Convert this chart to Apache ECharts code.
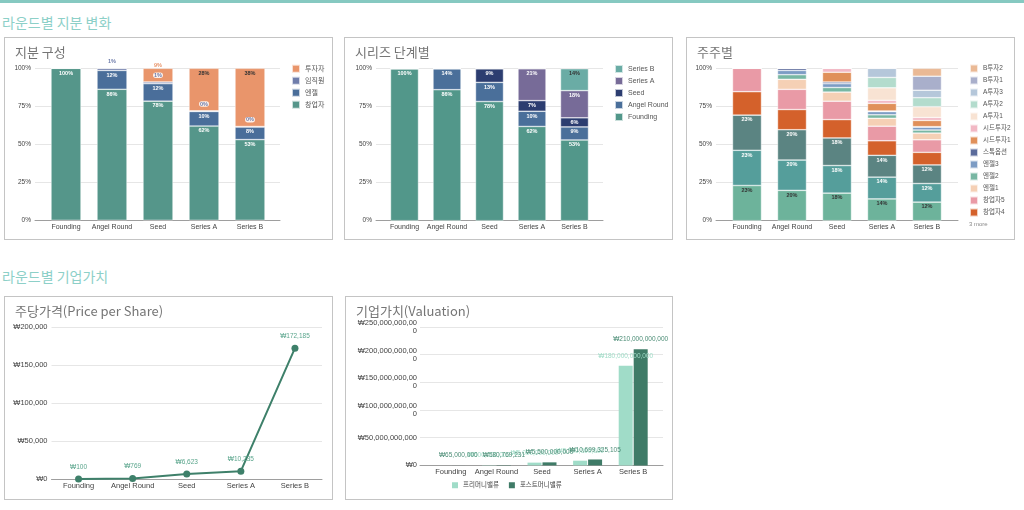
<!DOCTYPE html>
<html><head><meta charset="utf-8">
<script src="https://cdn.jsdelivr.net/npm/echarts@6/dist/echarts.min.js"></script>
<style>
body{margin:0;width:1024px;height:510px;background:#fff;position:relative;overflow:hidden;font-family:"Liberation Sans",Arial,"Noto Sans CJK KR",sans-serif;}
.topbar{position:absolute;left:0;top:0;width:1024px;height:3px;background:#86c9c1;}
.sec{position:absolute;left:2px;font-size:14px;color:#8dd0c8;line-height:16px;font-family:"Noto Sans CJK KR",sans-serif;white-space:nowrap;}
.panel{position:absolute;border:1px solid #c4c4c4;}
.ptitle{position:absolute;left:10px;top:6px;font-size:13px;color:#757575;line-height:16px;z-index:2;font-family:"Noto Sans CJK KR",sans-serif;white-space:nowrap;}
.chart{position:absolute;left:0;top:0;width:100%;height:100%;}
</style></head>
<body>
<div class="topbar"></div>
<div class="sec" style="top:14px">라운드별 지분 변화</div>
<div class="sec" style="top:268px">라운드별 기업가치</div>

<div class="panel" style="left:4px;top:37px;width:327px;height:201px"><div id="c1" class="chart"></div><div class="ptitle">지분 구성</div></div>
<div class="panel" style="left:344px;top:37px;width:327px;height:201px"><div id="c2" class="chart"></div><div class="ptitle">시리즈 단계별</div></div>
<div class="panel" style="left:686px;top:37px;width:327px;height:201px"><div id="c3" class="chart"></div><div class="ptitle">주주별</div></div>
<div class="panel" style="left:4px;top:296px;width:327px;height:202px"><div id="c4" class="chart"></div><div class="ptitle">주당가격(Price per Share)</div></div>
<div class="panel" style="left:345px;top:296px;width:326px;height:202px"><div id="c5" class="chart"></div><div class="ptitle">기업가치(Valuation)</div></div>

<script>
// ---------- data ----------
const categories = ['Founding', 'Angel Round', 'Seed', 'Series A', 'Series B'];

// 지분 구성 (percent of shares)
const eqNames = ['창업자', '엔젤', '임직원', '투자자'];
const eqFounder  = [100, 86.2, 78.4, 62.0, 53.1];
const eqAngel    = [0, 12.4, 11.5, 9.6, 8.3];
const eqEmployee = [0, 1.4, 1.1, 0.4, 0.3];
const eqInvestor = [0, 0, 9.0, 28.0, 38.3];

// 시리즈 단계별 (percent of shares)
const stNames = ['Founding', 'Angel Round', 'Seed', 'Series A', 'Series B'];
const stFounding = [100, 86.2, 78.4, 62.0, 53.1];
const stAngel    = [0, 13.8, 12.6, 10.0, 8.6];
const stSeed     = [0, 0, 9.0, 7.0, 6.0];
const stSeriesA  = [0, 0, 0, 21.0, 17.9];
const stSeriesB  = [0, 0, 0, 0, 14.4];

// 주주별 (percent of shares)
const holderNames = ['창업자1','창업자2','창업자3','창업자4','창업자5','엔젤1','엔젤2','엔젤3','스톡옵션','시드투자1','시드투자2','A투자1','A투자2','A투자3','B투자1','B투자2'];
const shFounder1 = [23.1, 19.9, 18.1, 14.3, 12.2];
const shFounder2 = [23.1, 19.9, 18.1, 14.3, 12.2];
const shFounder3 = [23.1, 19.9, 18.1, 14.3, 12.2];
const shFounder4 = [15.35, 13.25, 12.05, 9.55, 8.25];
const shFounder5 = [15.35, 13.25, 12.05, 9.55, 8.25];
const shAngel1   = [0, 6.6, 6.0, 5.2, 4.4];
const shAngel2   = [0, 3.0, 3.0, 2.3, 2.0];
const shAngel3   = [0, 2.8, 2.5, 2.1, 1.9];
const shOption   = [0, 1.4, 1.1, 0.4, 0.3];
const shSeed1    = [0, 0, 6.4, 5.0, 4.1];
const shSeed2    = [0, 0, 2.6, 2.0, 1.9];
const shA1       = [0, 0, 0, 8.2, 7.1];
const shA2       = [0, 0, 0, 6.8, 5.9];
const shA3       = [0, 0, 0, 6.0, 4.9];
const shB1       = [0, 0, 0, 0, 9.2];
const shB2       = [0, 0, 0, 0, 5.2];

// 주당가격
const pricePerShare = [100, 769, 6623, 10235, 172185];

// 기업가치
const valNames = ['프리머니밸류', '포스트머니밸류'];
const preMoney  = [null, 500000000, 5000000000, 8500000000, 180000000000];
const postMoney = [65000000, 580769231, 5500000000, 10699325105, 210000000000];

// ---------- helpers ----------
const FONT = '"Liberation Sans", Arial, "Noto Sans CJK KR", sans-serif';
const pct = v => Math.round(v) + '%';
const won = v => '₩' + Number(v).toLocaleString('en-US');
const segBorder = {borderColor: 'rgba(255,255,255,0.7)', borderWidth: 0.6};

function pctFrame(g) {
  return {
    animation: false,
    textStyle: {fontFamily: FONT},
    grid: [
      {left: g.barLeft, width: g.barW, top: g.top, height: g.h},
      {left: g.lineLeft, width: g.lineW, top: g.top, height: g.h}
    ],
    xAxis: [
      {type: 'category', data: categories, gridIndex: 0, axisLine: {show: false}, axisTick: {show: false},
       axisLabel: {interval: 0, fontSize: 7, color: '#444', margin: 3, fontFamily: FONT}},
      {type: 'category', data: [''], gridIndex: 1, axisLine: {lineStyle: {color: '#9e9e9e'}},
       axisTick: {show: false}, axisLabel: {show: false}}
    ],
    yAxis: [
      {type: 'value', gridIndex: 0, min: 0, max: 100, show: false},
      {type: 'value', gridIndex: 1, min: 0, max: 100, interval: 25,
       axisLabel: {formatter: '{value}%', fontSize: 6.5, color: '#444', margin: 4, fontFamily: FONT},
       splitLine: {lineStyle: {color: '#e6e6e6'}}, axisLine: {show: false}, axisTick: {show: false}}
    ]
  };
}
function lbl(v, extra) {
  return Object.assign({show: v > 0, formatter: pct(v), fontSize: 5.5, fontWeight: 'bold',
    position: 'insideTop', distance: 2, color: '#fff', fontFamily: FONT}, extra || {});
}

// ---------- chart 1 ----------
(function () {
  const c = echarts.init(document.getElementById('c1'));
  const opt = pctFrame({barLeft: 38, barW: 230, lineLeft: 30, lineW: 245, top: 30.3, h: 152});
  const cols = ['#55968a', '#4a6e9a', '#6f7dab', '#e9956b'];
  const arrs = [eqFounder, eqAngel, eqEmployee, eqInvestor];
  opt.series = arrs.map((arr, si) => ({
    name: eqNames[si], type: 'bar', stack: 'a', barWidth: 30, xAxisIndex: 0, yAxisIndex: 0,
    itemStyle: Object.assign({color: cols[si]}, segBorder),
    data: arr.map(v => {
      let l;
      if (si === 2) l = lbl(v, {position: 'top', distance: 4, color: '#6f7dab',
        backgroundColor: 'rgba(255,255,255,0.85)', borderRadius: 3, padding: [0, 1]});
      else if (si === 3) l = v < 10 ? lbl(v, {position: 'top', distance: 0, color: '#e9956b'})
                                    : lbl(v, {color: '#333'});
      else l = lbl(v);
      return {value: v, label: l};
    })
  }));
  opt.legend = {orient: 'vertical', left: 286, top: 25.7, padding: 0, itemWidth: 8, itemHeight: 8, itemGap: 2, icon: 'rect',
    data: eqNames.slice().reverse(), textStyle: {fontSize: 7, color: '#555', fontFamily: FONT}};
  c.setOption(opt);
})();

// ---------- chart 2 ----------
(function () {
  const c = echarts.init(document.getElementById('c2'));
  const opt = pctFrame({barLeft: 38.25, barW: 212.5, lineLeft: 31, lineW: 227, top: 30.7, h: 152});
  const cols = ['#52978a', '#4a6f9a', '#2c3d70', '#776b98', '#6aaca5'];
  const arrs = [stFounding, stAngel, stSeed, stSeriesA, stSeriesB];
  opt.series = arrs.map((arr, si) => ({
    name: stNames[si], type: 'bar', stack: 'a', barWidth: 28, xAxisIndex: 0, yAxisIndex: 0,
    itemStyle: Object.assign({color: cols[si]}, segBorder),
    data: arr.map(v => ({value: v, label: lbl(v, si === 4 ? {color: '#333'} : {})}))
  }));
  opt.legend = {orient: 'vertical', left: 269, top: 26, padding: 0, itemWidth: 8, itemHeight: 8, itemGap: 2, icon: 'rect',
    data: stNames.slice().reverse(), textStyle: {fontSize: 7, color: '#555', fontFamily: FONT}};
  c.setOption(opt);
})();

// ---------- chart 3 ----------
(function () {
  const c = echarts.init(document.getElementById('c3'));
  const opt = pctFrame({barLeft: 37.5, barW: 225, lineLeft: 29, lineW: 242, top: 30.3, h: 152.4});
  const cols = ['#6db39b','#559e9b','#5b8482','#d4612b','#e99aa6','#f5d0b5','#78b7a3','#7c9cc4','#5b6b9b',
                '#e0905a','#f2b8c4','#f8e3d3','#b3dccd','#b5c7da','#a9afcb','#eab995'];
  const arrs = [shFounder1, shFounder2, shFounder3, shFounder4, shFounder5, shAngel1, shAngel2, shAngel3,
                shOption, shSeed1, shSeed2, shA1, shA2, shA3, shB1, shB2];
  opt.series = arrs.map((arr, si) => ({
    name: holderNames[si], type: 'bar', stack: 'a', barWidth: 29, xAxisIndex: 0, yAxisIndex: 0,
    itemStyle: Object.assign({color: cols[si]}, segBorder),
    data: arr.map(v => ({value: v, label: si < 3 ? lbl(v, si === 0 ? {color: '#333'} : {}) : {show: false}}))
  }));
  opt.legend = {orient: 'vertical', left: 282, top: 25.5, padding: 0, itemWidth: 8, itemHeight: 8, itemGap: 2, icon: 'rect',
    data: holderNames.slice(3).reverse(), textStyle: {fontSize: 6.5, color: '#555', fontFamily: FONT}};
  opt.graphic = [{type: 'text', left: 282, top: 183, style: {text: '3 more', fontSize: 6, fill: '#888', fontFamily: FONT}}];
  c.setOption(opt);
})();

// ---------- chart 4 ----------
(function () {
  const c = echarts.init(document.getElementById('c4'));
  c.setOption({
    animation: false,
    grid: {left: 46.5, width: 270.5, top: 30, height: 152},
    xAxis: {type: 'category', data: categories, axisLine: {lineStyle: {color: '#9e9e9e'}}, axisTick: {show: false},
      axisLabel: {interval: 0, fontSize: 7.5, color: '#444', margin: 3, fontFamily: FONT}},
    yAxis: {type: 'value', min: 0, max: 200000, interval: 50000,
      axisLabel: {formatter: v => won(v), fontSize: 7.5, color: '#444', margin: 4, fontFamily: FONT},
      splitLine: {lineStyle: {color: '#e6e6e6'}}, axisLine: {show: false}, axisTick: {show: false}},
    series: [{type: 'line', data: pricePerShare, color: '#3e806a', lineStyle: {width: 2, color: '#3e806a'},
      symbol: 'circle', symbolSize: 7, itemStyle: {color: '#3e806a'},
      label: {show: true, position: 'top', distance: 5, fontSize: 6.5, color: '#5aa58c', fontFamily: FONT,
        formatter: p => won(p.value)}}]
  });
})();

// ---------- chart 5 ----------
(function () {
  const c = echarts.init(document.getElementById('c5'));
  const wrap = v => { const s = won(v); return s.length > 15 ? s.slice(0, 15) + '\n' + s.slice(15) : s; };
  c.setOption({
    animation: false,
    grid: [{left: 82, width: 228, top: 30, height: 138.4}, {left: 74, width: 243, top: 30, height: 138.4}],
    xAxis: [
      {type: 'category', data: categories, gridIndex: 0, axisLine: {show: false}, axisTick: {show: false},
       axisLabel: {interval: 0, fontSize: 7.5, color: '#444', margin: 3, fontFamily: FONT}},
      {type: 'category', data: [''], gridIndex: 1, axisLine: {lineStyle: {color: '#9e9e9e'}},
       axisTick: {show: false}, axisLabel: {show: false}}
    ],
    yAxis: [
      {type: 'value', gridIndex: 0, min: 0, max: 250000000000, show: false},
      {type: 'value', gridIndex: 1, min: 0, max: 250000000000, interval: 50000000000,
       axisLabel: {formatter: v => wrap(v), fontSize: 7.5, lineHeight: 8, color: '#444', margin: 3, fontFamily: FONT},
       splitLine: {lineStyle: {color: '#e6e6e6'}}, axisLine: {show: false}, axisTick: {show: false}}
    ],
    legend: {left: 106, top: 185, padding: 0, itemWidth: 6, itemHeight: 6, itemGap: 10, icon: 'rect', data: valNames,
      textStyle: {fontSize: 6.5, color: '#444', fontFamily: FONT}},
    series: [
      {name: valNames[0], type: 'bar', data: preMoney, barWidth: 14, barGap: '7%', itemStyle: {color: '#a0dcc8'},
       label: {show: true, position: 'top', distance: 6.5, fontSize: 6.5, color: '#9fdcc7', fontFamily: FONT,
         formatter: p => won(p.value)}},
      {name: valNames[1], type: 'bar', data: postMoney, barWidth: 14, itemStyle: {color: '#3f7b67'},
       label: {show: true, position: 'top', distance: 6.5, fontSize: 6.5, color: '#4a8c75', fontFamily: FONT,
         formatter: p => won(p.value)}}
    ]
  });
})();
</script>
</body></html>
